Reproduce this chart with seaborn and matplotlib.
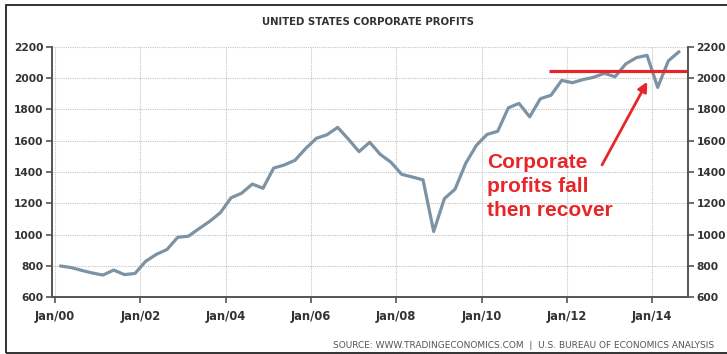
import matplotlib
matplotlib.use("Agg")
import matplotlib.pyplot as plt
import seaborn as sns
import pandas as pd
import numpy as np
from matplotlib.patches import Rectangle

# ---- data (quarterly, mid-quarter positions in decimal years) ----
quarter_pos = [2000.125 + 0.25 * k for k in range(59)]
profits = [
    800, 790, 772, 755, 742, 774, 745, 752,        # 2000-2001
    830, 874, 905, 983, 990, 1038, 1085, 1140,     # 2002-2003
    1235, 1265, 1323, 1296, 1425, 1445, 1475, 1550, # 2004-2005
    1615, 1638, 1685, 1610, 1530, 1590, 1512, 1462, # 2006-2007
    1385, 1368, 1350, 1020, 1230, 1290, 1455, 1570, # 2008-2009
    1640, 1660, 1810, 1838, 1752, 1868, 1890, 1985, # 2010-2011
    1970, 1990, 2005, 2030, 2008, 2090, 2130, 2145, # 2012-2013
    1940, 2110, 2168,                               # 2014
]
xtick_pos = [2000, 2002, 2004, 2006, 2008, 2010, 2012, 2014]
xtick_labels = ["Jan/00", "Jan/02", "Jan/04", "Jan/06", "Jan/08", "Jan/10", "Jan/12", "Jan/14"]
ytick_vals = [600, 800, 1000, 1200, 1400, 1600, 1800, 2000, 2200]
threshold = 2044

df = pd.DataFrame({"t": quarter_pos, "profits": profits})

sns.set_style("white")
plt.rcParams["font.family"] = ["DejaVu Sans"]

W, H = 727, 354
fig = plt.figure(figsize=(W / 100, H / 100), dpi=100)
ax = fig.add_axes([52 / W, 1 - 297.3 / H, (688 - 52) / W, (297.3 - 46.7) / H])

sns.lineplot(data=df, x="t", y="profits", ax=ax, color="#7d93a3", linewidth=2.3,
             solid_capstyle="round", solid_joinstyle="round")

ax.set_xlim(1999.93, 2014.835)
ax.set_ylim(600, 2200)
ax.set_xticks(xtick_pos)
ax.set_xticklabels(xtick_labels)
ax.set_yticks(ytick_vals)
ax.set_xlabel("")
ax.set_ylabel("")

ax.grid(True, color="#c4c4c4", linestyle=(0, (1, 1)), linewidth=0.8)
for side in ["left", "right", "bottom"]:
    ax.spines[side].set_visible(True)
    ax.spines[side].set_color("#555555")
    ax.spines[side].set_linewidth(1.4)
ax.spines["top"].set_visible(False)

ax.tick_params(axis="y", which="both", left=True, right=True, labelleft=True, labelright=True,
               direction="out", length=4.5, width=1.2, color="#555555", pad=1.5,
               labelsize=7.7, labelcolor="#333333")
ax.tick_params(axis="x", bottom=True, direction="out", length=4, width=1.2, color="#555555",
               pad=5, labelsize=8.3, labelcolor="#333333")
for lab in ax.get_xticklabels():
    lab.set_fontweight("bold")
for t in ax.yaxis.get_major_ticks():
    t.label1.set_fontweight("bold")
    t.label2.set_fontweight("bold")

# red threshold line and arrow
ax.plot([2011.58, 2014.835], [threshold, threshold], color="#e8262a", linewidth=2.3,
        solid_capstyle="butt", clip_on=False)
ax.annotate("", xy=(2013.88, 1976), xytext=(2012.82, 1445),
            arrowprops=dict(arrowstyle="-|>", color="#e8262a", lw=2.0, mutation_scale=14,
                            shrinkA=0, shrinkB=0))

# red annotation text
for txt, base in [("Corporate", 168), ("profits fall", 192), ("then recover", 215.5)]:
    fig.text(487 / W, 1 - base / H, txt, color="#e8262a", fontsize=15, fontweight="bold",
             family=["Liberation Sans", "DejaVu Sans"], ha="left", va="baseline")

# title
fig.text(368 / W, 1 - 22 / H, "UNITED STATES CORPORATE PROFITS", ha="center", va="center",
         fontsize=7.3, fontweight="bold", color="#333333")

# source
fig.text(714 / W, 1 - 345 / H,
         "SOURCE: WWW.TRADINGECONOMICS.COM  |  U.S. BUREAU OF ECONOMICS ANALYSIS",
         ha="right", va="center", fontsize=6.5, color="#555555")

# outer frame
fig.patches.append(Rectangle((6 / W, 1 - 353 / H), 1.05, (353 - 5) / H, transform=fig.transFigure,
                             fill=False, edgecolor="#222222", linewidth=1.3, clip_on=False))

fig.savefig("out.png", dpi=100)
